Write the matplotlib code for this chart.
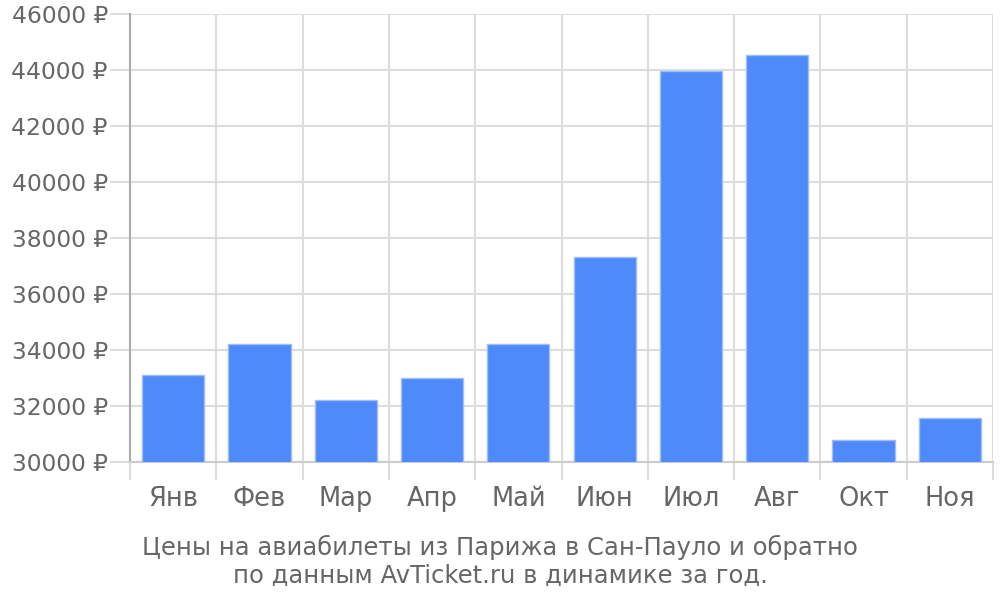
import numpy as np
import matplotlib
matplotlib.use("Agg")
import matplotlib.pyplot as plt

months = ["Янв", "Фев", "Мар", "Апр", "Май", "Июн", "Июл", "Авг", "Окт", "Ноя"]
prices = [33110, 34210, 32210, 33000, 34200, 37320, 43980, 44550, 30790, 31570]
yticks = list(range(30000, 46001, 2000))
caption = "Цены на авиабилеты из Парижа в Сан-Пауло и обратно\nпо данным AvTicket.ru в динамике за год."

plt.rcParams['font.family'] = ['DejaVu Sans']
txt = '#666666'
grid = '#dddddd'

fig = plt.figure(figsize=(10, 6), dpi=100)
ax = fig.add_axes([0.13, 0.23, 0.863, 0.7467])

x = np.arange(len(months))
ax.bar(x, prices, width=0.72, color='#4e8af9', edgecolor='#9dbdfb', linewidth=1, zorder=3)

ax.set_xlim(-0.5, len(months) - 0.5)
ax.set_ylim(30000, 46000)
ax.set_yticks(yticks)
ax.set_yticklabels([f"{v} ₽" for v in yticks])
ax.set_xticks(x)
ax.set_xticklabels(months)
ax.set_xticks(np.arange(-0.5, len(months)), minor=True)

ax.tick_params(axis='x', which='major', length=0, pad=17, labelsize=18.5, labelcolor=txt)
ax.tick_params(axis='x', which='minor', length=13, width=1.5, color=grid, direction='out')
ax.tick_params(axis='y', which='major', length=14.5, width=1.5, color=grid, pad=1.5,
               labelsize=16.8, labelcolor=txt)

ax.grid(axis='y', which='major', color=grid, linewidth=1.5, zorder=0)
ax.grid(axis='x', which='minor', color=grid, linewidth=1.5, zorder=0)

for s in ['top', 'right']:
    ax.spines[s].set_visible(False)
ax.spines['left'].set_color('#aaaaaa')
ax.spines['left'].set_linewidth(1.5)
ax.spines['bottom'].set_color('#cccccc')
ax.spines['bottom'].set_linewidth(1.5)
ax.xaxis.get_minor_ticks()[0].tick1line.set_color('#aaaaaa')

fig.text(0.5, 0.064, caption, ha='center', va='center', fontsize=17.5, color=txt,
         linespacing=1.22)

fig.savefig("out.png", dpi=100)
